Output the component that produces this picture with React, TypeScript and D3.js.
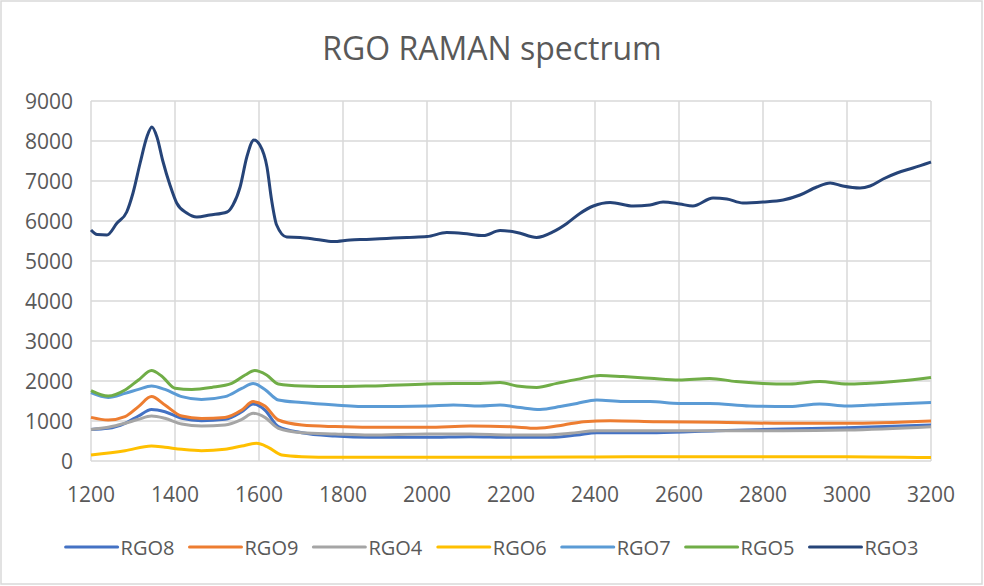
import * as d3 from "d3";
import { useEffect, useRef } from "react";

// wavenumber (cm-1), intensity
const rgo8 = [[1200,790],[1241,817],[1281,942],[1313,1125],[1344,1290],[1376,1233],[1416,1067],[1463,1008],[1519,1042],[1559,1233],[1586,1425],[1614,1275],[1646,858],[1702,708],[1781,625],[1864,592],[2000,592],[2103,608],[2198,592],[2293,592],[2357,650],[2404,708],[2547,708],[2690,758],[2848,800],[3000,833],[3200,900]];
const rgo9 = [[1200,1090],[1241,1025],[1281,1110],[1313,1360],[1344,1610],[1376,1400],[1416,1125],[1463,1065],[1519,1090],[1559,1275],[1586,1485],[1614,1375],[1646,1025],[1702,900],[1781,860],[1864,842],[2000,842],[2103,875],[2198,858],[2261,817],[2325,900],[2373,983],[2436,1008],[2547,983],[2690,967],[2848,942],[3000,942],[3200,1000]];
const rgo4 = [[1200,790],[1241,842],[1281,942],[1313,1042],[1344,1125],[1376,1067],[1416,925],[1463,875],[1519,900],[1559,1042],[1586,1192],[1614,1092],[1646,817],[1702,708],[1781,675],[1864,650],[2000,675],[2103,675],[2198,650],[2277,650],[2341,692],[2404,758],[2547,758],[2690,758],[2848,758],[3000,775],[3200,858]];
const rgo6 = [[1200,150],[1281,258],[1344,375],[1376,342],[1416,292],[1463,258],[1519,292],[1559,375],[1594,442],[1622,342],[1654,150],[1702,108],[1781,92],[1868,92],[2000,95],[2200,95],[2400,100],[2600,108],[2800,108],[3000,108],[3200,85]];
const rgo7 = [[1200,1710],[1241,1590],[1281,1690],[1313,1790],[1344,1875],[1376,1790],[1416,1610],[1463,1540],[1519,1610],[1559,1815],[1586,1940],[1614,1790],[1646,1525],[1702,1460],[1781,1400],[1864,1360],[2000,1375],[2063,1400],[2126,1375],[2174,1400],[2222,1335],[2269,1290],[2317,1360],[2357,1440],[2404,1525],[2467,1485],[2531,1485],[2600,1440],[2673,1440],[2768,1375],[2863,1360],[2935,1425],[3000,1375],[3085,1415],[3200,1465]];
const rgo5 = [[1200,1760],[1241,1625],[1281,1775],[1313,2025],[1344,2260],[1368,2125],[1400,1820],[1440,1790],[1487,1840],[1535,1940],[1567,2150],[1590,2260],[1618,2150],[1646,1925],[1702,1875],[1781,1860],[1864,1875],[2000,1925],[2063,1940],[2126,1940],[2174,1960],[2214,1875],[2261,1840],[2309,1940],[2357,2040],[2412,2140],[2467,2110],[2531,2070],[2600,2025],[2673,2065],[2736,1985],[2800,1940],[2863,1925],[2935,1985],[3000,1925],[3045,1940],[3125,2000],[3200,2090]];
const rgo3 = [[1200,5775],[1215,5660],[1238,5650],[1262,5950],[1285,6225],[1300,6700],[1317,7450],[1333,8100],[1345,8350],[1357,8100],[1371,7500],[1388,6900],[1404,6450],[1428,6200],[1452,6100],[1483,6150],[1524,6225],[1538,6400],[1555,6850],[1571,7600],[1588,8025],[1602,7900],[1619,7350],[1630,6525],[1642,5900],[1666,5600],[1698,5590],[1737,5540],[1776,5485],[1817,5525],[1856,5540],[1904,5565],[1952,5590],[2000,5610],[2047,5710],[2087,5690],[2134,5635],[2174,5760],[2214,5715],[2261,5590],[2301,5735],[2333,5940],[2364,6190],[2396,6375],[2436,6465],[2491,6375],[2531,6400],[2562,6475],[2602,6425],[2633,6375],[2681,6575],[2714,6550],[2752,6450],[2800,6475],[2848,6525],[2888,6650],[2928,6850],[2960,6950],[2990,6875],[3031,6825],[3055,6875],[3086,7050],[3119,7200],[3157,7325],[3200,7475]];

const seriesNames = ["RGO8", "RGO9", "RGO4", "RGO6", "RGO7", "RGO5", "RGO3"];
const seriesData = [rgo8, rgo9, rgo4, rgo6, rgo7, rgo5, rgo3];
const seriesColors = ["#4472C4", "#ED7D31", "#A5A5A5", "#FFC000", "#5B9BD5", "#70AD47", "#264478"];
const xTicks = [1200, 1400, 1600, 1800, 2000, 2200, 2400, 2600, 2800, 3000, 3200];
const yTicks = [0, 1000, 2000, 3000, 4000, 5000, 6000, 7000, 8000, 9000];

function App() {
    const svgRef = useRef(null);
    const width = 984, height = 586;
    const marginLeft = 91, marginRight = 53, marginTop = 101, marginBottom = 125;
    const font = "'Open Sans', 'Noto Sans', sans-serif";

    useEffect(() => {
        const svg = d3.select(svgRef.current);
        svg.selectAll("*").remove();

        const x = d3.scaleLinear([1200, 3200], [marginLeft, width - marginRight]);
        const y = d3.scaleLinear([0, 9000], [height - marginBottom, marginTop]);

        svg.append("rect")
            .attr("x", 1).attr("y", 1)
            .attr("width", width - 3).attr("height", height - 3)
            .attr("fill", "#fff").attr("stroke", "#d9d9d9").attr("stroke-width", 1.5);

        svg.append("text")
            .attr("x", width / 2).attr("y", 47)
            .attr("text-anchor", "middle").attr("dominant-baseline", "central")
            .style("font-family", font).style("font-size", "32px").style("fill", "#595959")
            .text("RGO RAMAN spectrum");

        // grid
        svg.append("g").selectAll("line").data(yTicks).enter().append("line")
            .attr("x1", x(1200)).attr("x2", x(3200))
            .attr("y1", d => y(d)).attr("y2", d => y(d))
            .attr("stroke", "#d9d9d9").attr("stroke-width", 1.5);
        svg.append("g").selectAll("line").data(xTicks).enter().append("line")
            .attr("x1", d => x(d)).attr("x2", d => x(d))
            .attr("y1", y(0)).attr("y2", y(9000))
            .attr("stroke", "#d9d9d9").attr("stroke-width", 1.5);

        svg.append("g").selectAll("text").data(yTicks).enter().append("text")
            .attr("x", 73).attr("y", d => y(d))
            .attr("text-anchor", "end").attr("dominant-baseline", "central")
            .style("font-family", font).style("font-size", "21px").style("fill", "#595959")
            .text(d => d);
        svg.append("g").selectAll("text").data(xTicks).enter().append("text")
            .attr("x", d => x(d)).attr("y", 494)
            .attr("text-anchor", "middle").attr("dominant-baseline", "central")
            .style("font-family", font).style("font-size", "21px").style("fill", "#595959")
            .text(d => d);

        const line = d3.line().x(d => x(d[0])).y(d => y(d[1])).curve(d3.curveMonotoneX);
        svg.append("g").selectAll("path").data(seriesData).enter().append("path")
            .attr("d", d => line(d))
            .attr("fill", "none")
            .attr("stroke", (d, i) => seriesColors[i])
            .attr("stroke-width", 3)
            .attr("stroke-linejoin", "round");

        // legend, centred as a whole
        const legend = svg.append("g");
        const items = legend.selectAll("g").data(seriesNames).enter().append("g");
        items.append("line")
            .attr("x1", 0).attr("x2", 52).attr("y1", 0).attr("y2", 0)
            .attr("stroke", (d, i) => seriesColors[i]).attr("stroke-width", 3)
            .attr("stroke-linecap", "round");
        items.append("text")
            .attr("x", 55).attr("y", 0).attr("dominant-baseline", "central")
            .style("font-family", font).style("font-size", "20px").style("fill", "#595959")
            .text(d => d);
        let offset = 0;
        const gap = 15;
        items.each(function () {
            const w = this.getBBox().width;
            d3.select(this).attr("transform", `translate(${offset},0)`);
            offset += w + gap;
        });
        const total = offset - gap;
        legend.attr("transform", `translate(${(width - total) / 2},547)`);
    }, []);

    return (
        <svg ref={svgRef} width={width} height={height}
            style={{ position: "absolute", left: 0, top: 0, background: "#fff" }} />
    );
}

export default App;
